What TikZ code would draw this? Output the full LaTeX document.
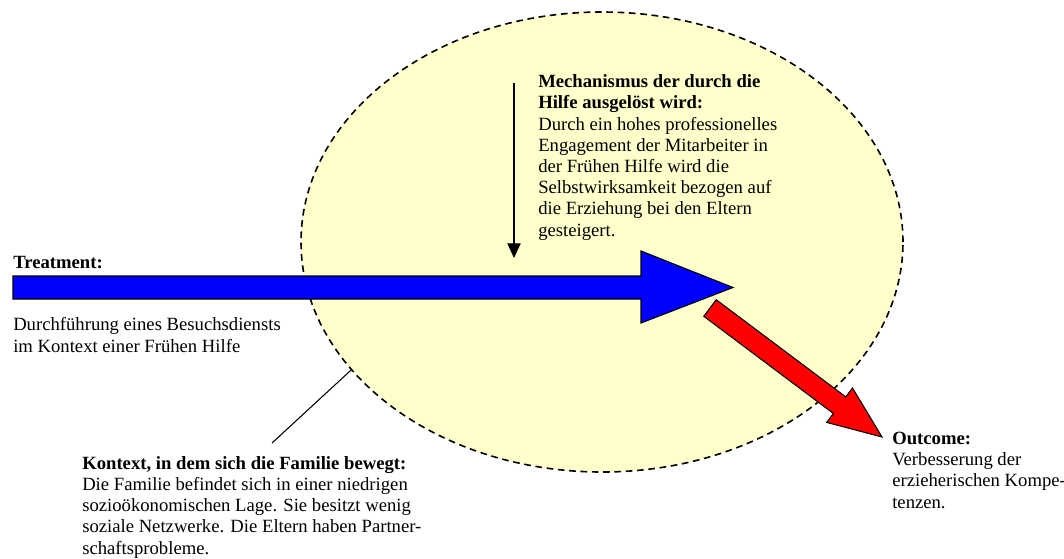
\documentclass[tikz,border=0pt]{standalone}
\usepackage{fontspec}
\setmainfont{Liberation Serif}
\usepackage{xcolor}
\usetikzlibrary{positioning,shapes.geometric,arrows.meta}

\definecolor{paleyellow}{HTML}{FFFFCC}

\begin{document}
\begin{tikzpicture}[x=0.75pt, y=-0.75pt,
    txt/.style={align=left, anchor=base west, inner sep=0pt, font=\fontsize{14}{15.9}\selectfont},
    blockarrow/.style={draw, line width=0.8pt, line join=miter}]
    \useasboundingbox (0,0) rectangle (1064,558);

    \node[draw, ellipse, fill=paleyellow, line width=1.2pt, dash pattern=on 5pt off 3.5pt, minimum width=451.5pt, minimum height=345pt, inner sep=0pt, outer sep=0pt] (ctx) at (602,242) {};

    % treatment and outcome arrows
    \draw[blockarrow, fill=blue] (13,276) -- (641,276) -- (641,251) -- (733,287.5) -- (641,323) -- (641,299) -- (13,299) -- cycle;
    \draw[blockarrow, fill=red] (716.2,299.7) -- (845.8,396.9) -- (852.5,388.0) -- (882,437) -- (826.7,422.4) -- (833.4,413.5) -- (703.8,316.3) -- cycle;

    % text blocks sit on the baseline of their last line
    \node[txt] (treat) at (13,268) {\textbf{Treatment:}};
    \node[txt] (treatdesc) at (13,352) {Durchführung eines Besuchsdiensts\\im Kontext einer Frühen Hilfe};
    \node[txt] (mech) at (538,236) {\textbf{Mechanismus der durch die}\\\textbf{Hilfe ausgelöst wird:}\\Durch ein hohes professionelles\\Engagement der Mitarbeiter in\\der Frühen Hilfe wird die\\Selbstwirksamkeit bezogen auf\\die Erziehung bei den Eltern\\gesteigert.};
    \node[txt] (outcome) at (892,508) {\textbf{Outcome:}\\Verbesserung der\\erzieherischen Kompe-\\tenzen.};
    \node[txt] (kontext) at (82,554) {\textbf{Kontext, in dem sich die Familie bewegt:}\\Die Familie befindet sich in einer niedrigen\\sozioökonomischen Lage. Sie besitzt wenig\\soziale Netzwerke. Die Eltern haben Partner-\\schaftsprobleme.};

    \coordinate (mtop) at (514,83);
    \coordinate (mbot) at (514,258);
    \draw[-{Triangle[width=10pt,length=11pt]}, line width=0.8pt] (mtop) -- (mbot); % mechanism pointer
    \coordinate (kfoot) at (272,443);
    \draw[line width=0.8pt] (kfoot) -- (ctx.207);
\end{tikzpicture}
\end{document}
